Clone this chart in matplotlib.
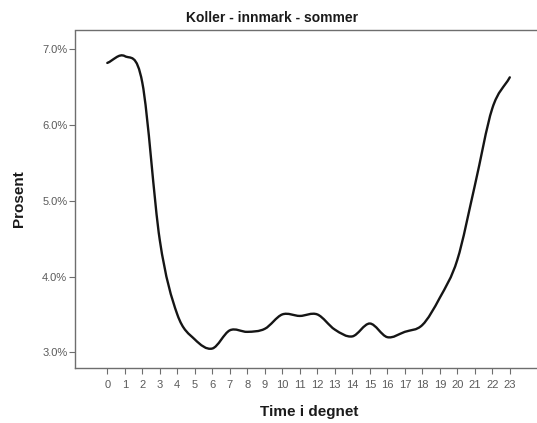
import numpy as np
import matplotlib
matplotlib.use("Agg")
import matplotlib.pyplot as plt
from matplotlib.path import Path
from matplotlib.patches import PathPatch
from matplotlib.ticker import FuncFormatter

# ===================== DATA =====================
hours = list(range(24))
percent = [6.82, 6.91, 6.56, 4.48, 3.50, 3.17, 3.05, 3.29, 3.27, 3.31,
           3.50, 3.48, 3.50, 3.30, 3.21, 3.38, 3.20, 3.27, 3.36, 3.72,
           4.22, 5.20, 6.22, 6.63]
y_ticks = [3.0, 4.0, 5.0, 6.0, 7.0]

title = "Koller - innmark - sommer"
x_label = "Time i degnet"
y_label = "Prosent"

plt.rcParams["font.family"] = ["Liberation Sans", "DejaVu Sans"]


def smooth_path(x, y):
    """Catmull-Rom style cubic Bezier path through the points."""
    x = np.asarray(x, float)
    y = np.asarray(y, float)
    pts = np.column_stack([x, y])
    n = len(pts)
    tang = np.zeros_like(pts)
    tang[1:-1] = (pts[2:] - pts[:-2]) / 2.0
    tang[0] = pts[1] - pts[0]
    tang[-1] = pts[-1] - pts[-2]
    verts = [pts[0]]
    codes = [Path.MOVETO]
    for i in range(n - 1):
        verts += [pts[i] + tang[i] / 3.0, pts[i + 1] - tang[i + 1] / 3.0, pts[i + 1]]
        codes += [Path.CURVE4] * 3
    return Path(verts, codes)


# ===================== PLOT =====================
W, H = 537, 423
fig = plt.figure(figsize=(W / 100, H / 100), dpi=100)
fig.patch.set_facecolor("white")

left, right, top, bottom = 75.0, 537.0, 30.5, 368.3
ax = fig.add_axes([left / W, 1 - bottom / H, (right - left) / W, (bottom - top) / H])

x0_px, px_per_hr = 107.3, 17.5
ax.set_xlim((left - x0_px) / px_per_hr, (right - x0_px) / px_per_hr)
y7_px, px_per_pct = 49.3, 75.75
ax.set_ylim(7.0 - (bottom - y7_px) / px_per_pct, 7.0 + (y7_px - top) / px_per_pct)

patch = PathPatch(smooth_path(hours, percent), facecolor="none",
                  edgecolor="#151515", linewidth=1.7, capstyle="round",
                  joinstyle="round")
ax.add_patch(patch)

ax.set_xticks(hours)
ax.set_yticks(y_ticks)
ax.yaxis.set_major_formatter(FuncFormatter(lambda v, p: f"{v:.1f}%"))

for s in ["left", "top", "bottom"]:
    ax.spines[s].set_color("#6e6e6e")
    ax.spines[s].set_linewidth(1.0)
ax.spines["right"].set_visible(False)

ax.tick_params(axis="both", direction="out", length=4, width=0.8,
               color="#6e6e6e", labelcolor="#5a5a5a", labelsize=8)
ax.tick_params(axis="x", pad=4.5)
ax.tick_params(axis="y", pad=1.5)

fig.text(272 / W, 1 - 18.5 / H, title, ha="center", va="center",
         fontsize=10, fontweight="bold", color="#1a1a1a")
fig.text(309 / W, 1 - 411.5 / H, x_label, ha="center", va="center",
         fontsize=11, fontweight="bold", color="#1a1a1a")
fig.text(19 / W, 1 - 199 / H, y_label, ha="center", va="center",
         rotation=90, fontsize=11, fontweight="bold", color="#1a1a1a")

fig.savefig("out.png", dpi=100, facecolor="white")
